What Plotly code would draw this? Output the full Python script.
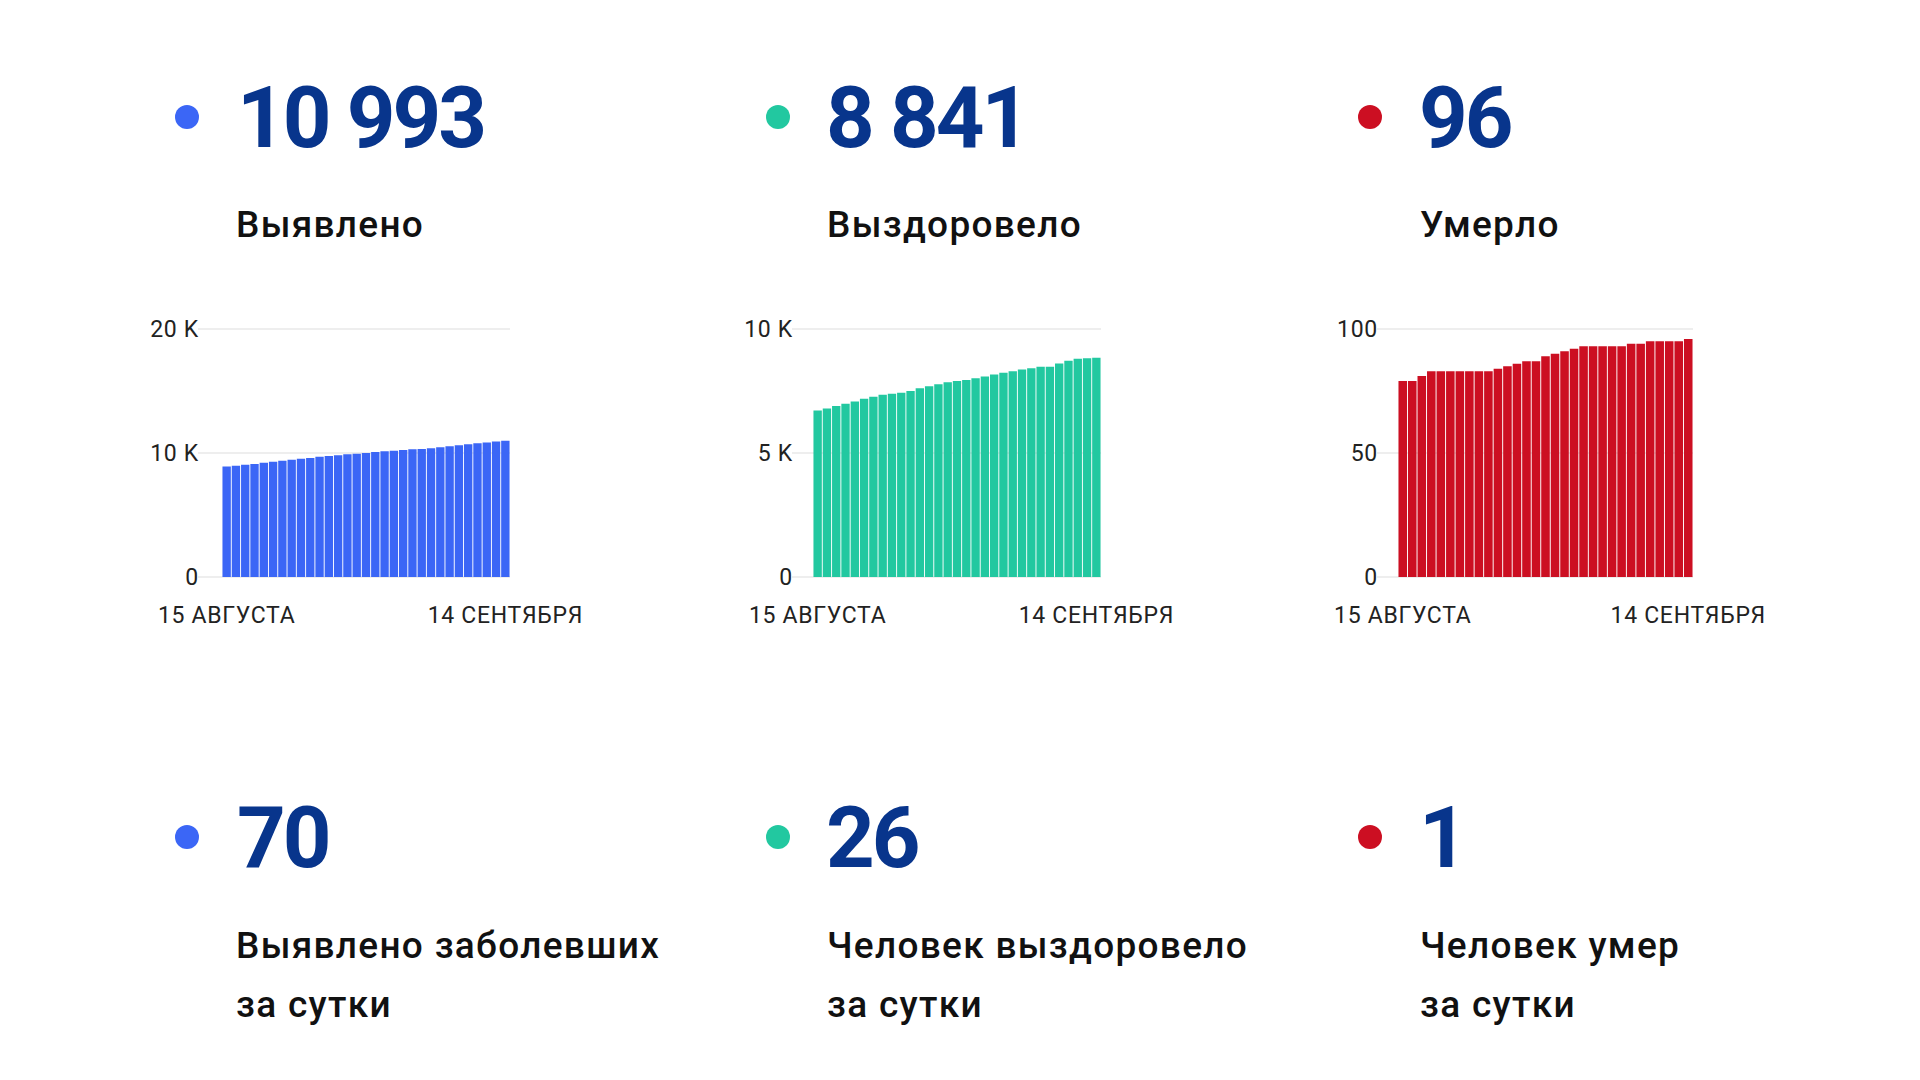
import plotly.graph_objects as go

W, H = 1920, 1080

dates_first = "15 АВГУСТА"
dates_last = "14 СЕНТЯБРЯ"
n_days = 31

cases = [8920, 8975, 9055, 9110, 9215, 9295, 9380, 9460, 9540, 9595,
         9700, 9755, 9810, 9890, 9945, 10000, 10080, 10135, 10190, 10245,
         10295, 10325, 10380, 10460, 10540, 10620, 10700, 10785, 10840, 10923,
         10993]
recovered = [6716, 6797, 6892, 6986, 7081, 7189, 7270, 7351, 7392, 7432,
             7500, 7608, 7689, 7770, 7851, 7905, 7946, 8014, 8081, 8162,
             8230, 8297, 8365, 8419, 8473, 8478, 8608, 8716, 8797, 8815,
             8841]
deaths = [79, 79, 81, 83, 83, 83, 83, 83, 83, 83,
          84, 85, 86, 87, 87, 89, 90, 91, 92, 93,
          93, 93, 93, 93, 94, 94, 95, 95, 95, 95,
          96]

totals = ["10 993", "8 841", "96"]
total_labels = ["Выявлено", "Выздоровело", "Умерло"]
daily = ["70", "26", "1"]
daily_labels_1 = ["Выявлено заболевших", "Человек выздоровело", "Человек умер"]
daily_labels_2 = ["за сутки", "за сутки", "за сутки"]

y_tickvals = [[0, 10000, 20000], [0, 5000, 10000], [0, 50, 100]]
y_ticktext = [["0", "10 K", "20 K"], ["0", "5 K", "10 K"], ["0", "50", "100"]]
y_max = [20000, 10000, 100]

series = [cases, recovered, deaths]
bar_colors = ["#3b66f6", "#22c8a0", "#cc0f22"]
num_color = "#08358c"
label_color = "#111111"
tick_color = "#222222"

# layout (pixels)
plot_left = [198, 792, 1377]
bar_left = [222, 813, 1398]
bar_right = [510, 1101, 1693]
px_top, px_bottom = 324, 582  # plot area incl. small padding
col_dot_x = [187, 778, 1370]
num_x = [235, 824, 1416.5]
label_x = [234, 825, 1417.5]


def fx(px):
    return px / W


def fy(py):
    return 1 - py / H


def spaced(text, ls):
    return '<span style="letter-spacing:%spx">%s</span>' % (ls, text)


fig = go.Figure()
x = list(range(n_days))
tick_font = dict(family="Roboto", size=23, color=tick_color)
for i in range(3):
    ax = "" if i == 0 else str(i + 1)
    fig.add_trace(go.Bar(
        x=x, y=series[i], marker=dict(color=bar_colors[i], line=dict(width=0)),
        xaxis="x" + ax, yaxis="y" + ax, hoverinfo="skip", showlegend=False))
    w = (bar_right[i] - bar_left[i]) / n_days
    a = -0.5 - (bar_left[i] - plot_left[i]) / w
    b = n_days - 0.5
    pad = y_max[i] * 0.02
    fig.update_layout(**{
        "xaxis" + ax: dict(
            domain=[fx(plot_left[i]), fx(bar_right[i])], range=[a, b],
            anchor="y" + ax, tickvals=[0, n_days - 1],
            ticktext=[spaced(dates_first, 0.7), spaced(dates_last, 0.7)],
            showgrid=False, zeroline=False, showline=False, ticks="",
            tickfont=tick_font, ticklabelstandoff=17, automargin=False,
            fixedrange=True),
        "yaxis" + ax: dict(
            domain=[fy(px_bottom), fy(px_top)], range=[-pad, y_max[i] + pad],
            anchor="x" + ax, tickvals=y_tickvals[i],
            ticktext=[spaced(t, 0.7) for t in y_ticktext[i]],
            showgrid=True, gridcolor="#eeeeee", gridwidth=2, zeroline=False,
            showline=False, ticks="", tickfont=tick_font,
            ticklabelstandoff=-2, automargin=False, fixedrange=True),
    })

annotations = []
shapes = []


def add_text(text, px, baseline, size, weight, color):
    annotations.append(dict(
        text=text, xref="paper", yref="paper",
        x=fx(px), y=fy(baseline + 0.244 * size + 2),
        xanchor="left", yanchor="bottom", showarrow=False,
        font=dict(family="Roboto", size=size, weight=weight, color=color)))


for i in range(3):
    add_text(spaced(totals[i], -3), num_x[i], 147, 85, 700, num_color)
    add_text(spaced(total_labels[i], 1.3), label_x[i], 237, 37, 500, label_color)
    add_text(spaced(daily[i], -3), num_x[i], 867, 85, 700, num_color)
    add_text(spaced(daily_labels_1[i], 1.3), label_x[i], 958, 37, 500, label_color)
    add_text(spaced(daily_labels_2[i], 1.3), label_x[i], 1017, 37, 500, label_color)
    for cy in (117, 837):
        r = 12
        shapes.append(dict(
            type="circle", xref="paper", yref="paper",
            x0=fx(col_dot_x[i] - r), x1=fx(col_dot_x[i] + r),
            y0=fy(cy + r), y1=fy(cy - r),
            fillcolor=bar_colors[i], line=dict(width=0)))

fig.update_layout(
    width=W, height=H, margin=dict(l=0, r=0, t=0, b=0, pad=0, autoexpand=False),
    paper_bgcolor="white", plot_bgcolor="white",
    bargap=0.1, annotations=annotations, shapes=shapes,
    font=dict(family="Roboto"),
)

fig.write_html("out.html", config={"displayModeBar": False})
